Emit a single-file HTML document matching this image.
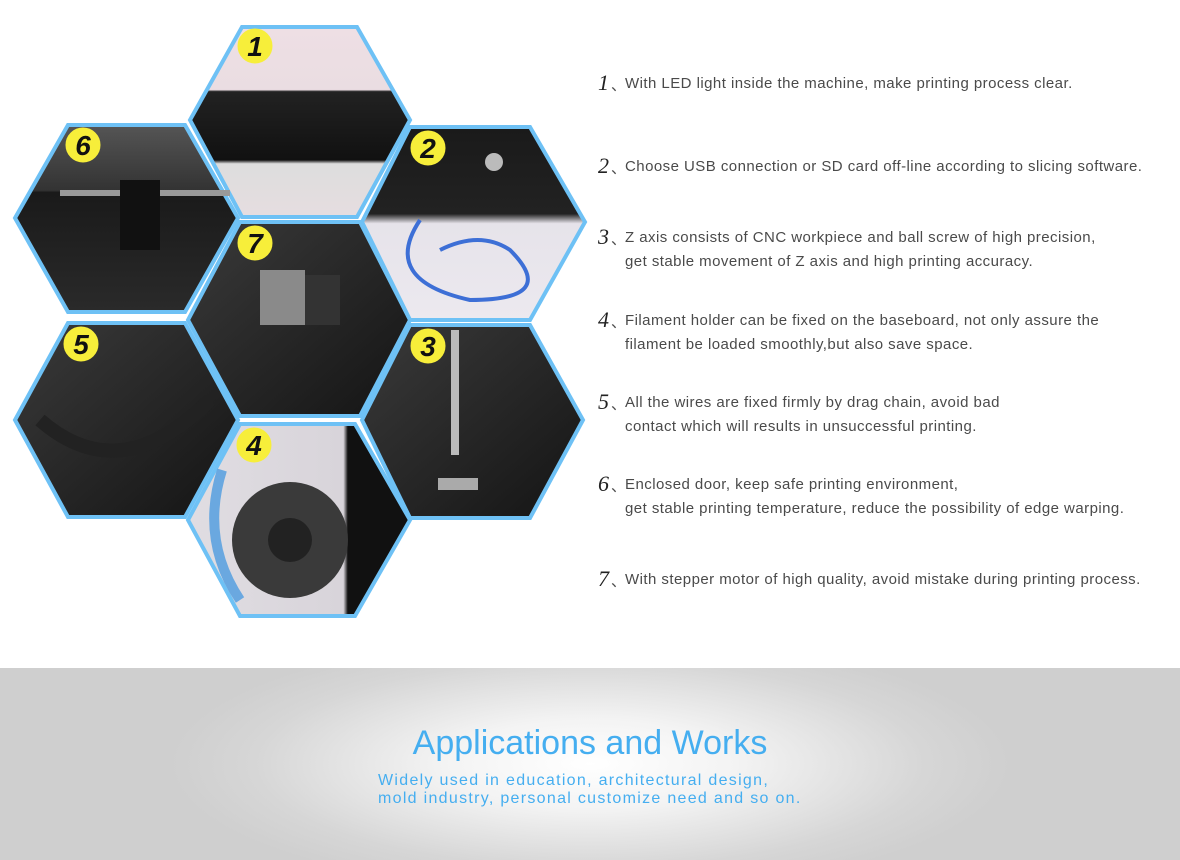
<!DOCTYPE html>
<html><head><meta charset="utf-8"><style>
html,body{margin:0;padding:0;background:#fff;width:1180px;height:860px;overflow:hidden;font-family:"Liberation Sans",sans-serif}
.t{position:absolute;left:598px;color:#4a4a4a;font-size:15px;line-height:24px;letter-spacing:0.45px}
.t i{font-family:"Liberation Serif",serif;font-size:22px;color:#222;font-style:italic;margin-right:2px;letter-spacing:0}
.t span{display:inline-block;vertical-align:top;padding-top:1px;position:absolute;left:27px;white-space:nowrap}
.band{position:absolute;left:0;top:668px;width:1180px;height:192px;background:radial-gradient(ellipse 420px 130px at 590px 96px,#ffffff 0%,#f3f3f3 35%,#d6d6d6 80%,#cfcfcf 100%)}
</style></head><body>
<svg width="600" height="640" style="position:absolute;left:0;top:0">
<defs>
<linearGradient id="g1" x1="0" y1="0" x2="0" y2="1"><stop offset="0" stop-color="#eedfe4"/><stop offset="0.33" stop-color="#eadde2"/><stop offset="0.34" stop-color="#222"/><stop offset="0.7" stop-color="#111"/><stop offset="0.72" stop-color="#ddd"/><stop offset="1" stop-color="#e6dde0"/></linearGradient>
<linearGradient id="g2" x1="0" y1="0" x2="0" y2="1"><stop offset="0" stop-color="#1a1a1a"/><stop offset="0.45" stop-color="#222"/><stop offset="0.5" stop-color="#e6e3ea"/><stop offset="1" stop-color="#ece9ef"/></linearGradient>
<linearGradient id="gd" x1="0" y1="0" x2="1" y2="1"><stop offset="0" stop-color="#3a3a3a"/><stop offset="1" stop-color="#141414"/></linearGradient>
<linearGradient id="g6" x1="0" y1="0" x2="0" y2="1"><stop offset="0" stop-color="#555"/><stop offset="0.35" stop-color="#333"/><stop offset="0.36" stop-color="#1a1a1a"/><stop offset="1" stop-color="#2a2a2a"/></linearGradient>
<linearGradient id="g4" x1="0" y1="0" x2="1" y2="0"><stop offset="0" stop-color="#e0dde2"/><stop offset="0.7" stop-color="#d8d4da"/><stop offset="0.72" stop-color="#111"/><stop offset="1" stop-color="#111"/></linearGradient>
</defs>
<g stroke="#6ec1f5" stroke-width="4" stroke-linejoin="miter">
<polygon points="242,27 357,27 410,120 357,217 242,217 190,120" fill="url(#g1)"/>
<polygon points="410,127 530,127 585,222 530,320 410,320 362,222" fill="url(#g2)"/>
<polygon points="68,125 185,125 238,218 185,312 68,312 15,218" fill="url(#g6)"/>
<polygon points="68,323 185,323 238,420 185,517 68,517 15,420" fill="url(#gd)"/>
<polygon points="410,325 530,325 583,420 530,518 410,518 362,420" fill="url(#gd)"/>
<polygon points="240,424 355,424 410,520 355,616 240,616 188,520" fill="url(#g4)"/>
<polygon points="240,222 360,222 410,320 360,416 240,416 188,320" fill="url(#gd)"/>
</g>
<rect x="260" y="270" width="45" height="55" fill="#8a8a8a"/><rect x="305" y="275" width="35" height="50" fill="#333"/>
<circle cx="290" cy="540" r="58" fill="#3a3a3a"/><circle cx="290" cy="540" r="22" fill="#222"/>
<path d="M222,470 Q200,540 240,600" stroke="#6aa8e0" stroke-width="10" fill="none"/>
<path d="M455,455 L455,330" stroke="#bbb" stroke-width="8"/><rect x="438" y="478" width="40" height="12" fill="#aaa"/>
<path d="M420,220 Q380,280 470,300 Q560,300 510,250 Q480,230 440,250" stroke="#3d6fd6" stroke-width="4" fill="none"/>
<circle cx="494" cy="162" r="9" fill="#bbb"/>
<path d="M40,420 Q120,490 210,400" stroke="#222" stroke-width="14" fill="none"/>
<rect x="60" y="190" width="170" height="6" fill="#999"/><rect x="120" y="180" width="40" height="70" fill="#111"/>
<g fill="#f7ee3a" stroke="#f7ee3a">
<circle cx="255" cy="46" r="17"/><circle cx="428" cy="148" r="17"/><circle cx="83" cy="145" r="17"/><circle cx="255" cy="243" r="17"/><circle cx="81" cy="344" r="17"/><circle cx="428" cy="346" r="17"/><circle cx="254" cy="445" r="17"/>
</g>
<g font-family="Liberation Sans,sans-serif" font-weight="bold" font-style="italic" font-size="28" fill="#111" text-anchor="middle">
<text x="255" y="56">1</text><text x="428" y="158">2</text><text x="83" y="155">6</text><text x="255" y="253">7</text><text x="81" y="354">5</text><text x="428" y="356">3</text><text x="254" y="455">4</text>
</g>
</svg>
<div class="t" style="top:71px"><i>1</i>、<span>With LED light inside the machine, make printing process clear.</span></div>
<div class="t" style="top:154px"><i>2</i>、<span>Choose USB connection or SD card off-line according to slicing software.</span></div>
<div class="t" style="top:225px"><i>3</i>、<span>Z axis consists of CNC workpiece and ball screw of high precision,<br>get stable movement of Z axis and high printing accuracy.</span></div>
<div class="t" style="top:308px"><i>4</i>、<span>Filament holder can be fixed on the baseboard, not only assure the<br>filament be loaded smoothly,but also save space.</span></div>
<div class="t" style="top:390px"><i>5</i>、<span>All the wires are fixed firmly by drag chain, avoid bad<br>contact which will results in unsuccessful printing.</span></div>
<div class="t" style="top:472px"><i>6</i>、<span>Enclosed door, keep safe printing environment,<br>get stable printing temperature, reduce the possibility of edge warping.</span></div>
<div class="t" style="top:567px"><i>7</i>、<span>With stepper motor of high quality, avoid mistake during printing process.</span></div>
<div class="band">
<div style="position:absolute;left:0;width:1180px;top:56px;text-align:center;color:#45aef0;font-size:34px">Applications and Works</div>
<div style="position:absolute;left:378px;top:104px;color:#45aef0;font-size:16px;letter-spacing:1.3px;line-height:18px">Widely used in education, architectural design,<br>mold industry, personal customize need and so on.</div>
</div>
</body></html>
